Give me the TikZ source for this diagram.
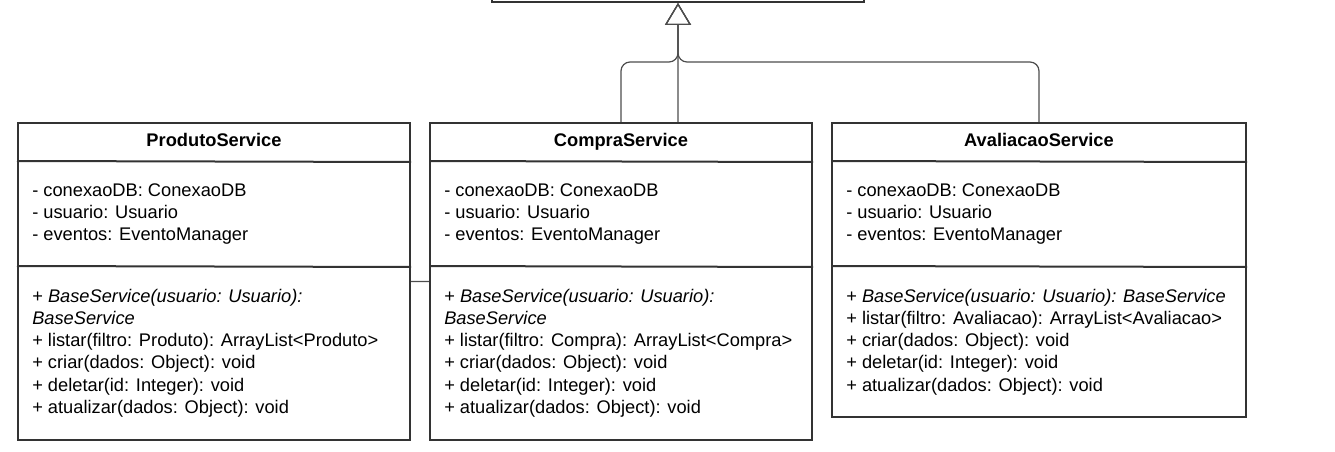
\documentclass[tikz,border=0pt]{standalone}
\usepackage{fontspec}
\setmainfont{Liberation Sans}
\usetikzlibrary{arrows.meta,backgrounds}
\definecolor{bord}{HTML}{333333}
\definecolor{conncol}{HTML}{4D4D4D}
\begin{document}
\begin{tikzpicture}[x=0.75pt,y=-0.75pt,
  classbox/.style={draw=bord,line width=1.5pt,fill=white,inner sep=0pt},
  divider/.style={draw=bord,line width=1.5pt},
  txt/.style={anchor=base west,inner sep=0pt,font=\fontsize{13.7pt}{16.5pt}\selectfont},
  title/.style={anchor=base,inner sep=0pt,font=\fontsize{13.7pt}{16.5pt}\selectfont\bfseries},
  gen/.style={draw=conncol,line width=0.9pt,rounded corners=6.75pt,
    -{Triangle[open,length=16.5pt,width=19.5pt,line width=0.9pt]}}]
\useasboundingbox (0,0) rectangle (1335,452);

% class boxes
\node[classbox,minimum width=279pt,minimum height=31.5pt] (base) at (678,-19) {};
\node[classbox,minimum width=294pt,minimum height=237.75pt] (prod) at (214,281.5) {};
\node[classbox,minimum width=286.5pt,minimum height=237.75pt] (compra) at (621,281.5) {};
\node[classbox,minimum width=310.5pt,minimum height=220.5pt] (aval) at (1039,270) {};

% dividers
\foreach \b in {prod,compra,aval}{
  \draw[divider] (\b.north west) ++(0,39) -- (\b.north east |- {0,162});
  \draw[divider] (\b.north west) ++(0,144) -- (\b.north east |- {0,267});
}

% generalization connectors (behind the boxes)
\begin{scope}[on background layer]
  \coordinate (bus) at (678,62);
  \draw[gen] (prod.east) -- (prod.east -| base.south) -- (base.south);
  \draw[gen] (compra.north) |- (bus) -- (base.south);
  \draw[gen] (aval.north) |- (bus) -- (base.south);
\end{scope}

% ProdutoService
\node[title] (prod-t) at (214,147) {ProdutoService};
\foreach \t [count=\i] in {- conexaoDB: ConexaoDB, - usuario: Usuario, - eventos: EventoManager}
  \node[txt] (prod-a\i) at (32,175+22*\i) {\t};
\foreach \t [count=\i] in {+ \textit{BaseService(usuario: Usuario):}, \textit{BaseService},
  + listar(filtro: Produto): ArrayList<Produto>, + criar(dados: Object): void,
  + deletar(id: Integer): void, + atualizar(dados: Object): void}
  \node[txt] (prod-m\i) at (32,280+22.2*\i) {\t};

% CompraService
\node[title] (compra-t) at (621,147) {CompraService};
\foreach \t [count=\i] in {- conexaoDB: ConexaoDB, - usuario: Usuario, - eventos: EventoManager}
  \node[txt] (compra-a\i) at (444,175+22*\i) {\t};
\foreach \t [count=\i] in {+ \textit{BaseService(usuario: Usuario):}, \textit{BaseService},
  + listar(filtro: Compra): ArrayList<Compra>, + criar(dados: Object): void,
  + deletar(id: Integer): void, + atualizar(dados: Object): void}
  \node[txt] (compra-m\i) at (444,280+22.2*\i) {\t};

% AvaliacaoService
\node[title] (aval-t) at (1039,147) {AvaliacaoService};
\foreach \t [count=\i] in {- conexaoDB: ConexaoDB, - usuario: Usuario, - eventos: EventoManager}
  \node[txt] (aval-a\i) at (846,175+22*\i) {\t};
\foreach \t [count=\i] in {+ \textit{BaseService(usuario: Usuario): BaseService},
  + listar(filtro: Avaliacao): ArrayList<Avaliacao>, + criar(dados: Object): void,
  + deletar(id: Integer): void, + atualizar(dados: Object): void}
  \node[txt] (aval-m\i) at (846,280+22.2*\i) {\t};
\end{tikzpicture}
\end{document}
